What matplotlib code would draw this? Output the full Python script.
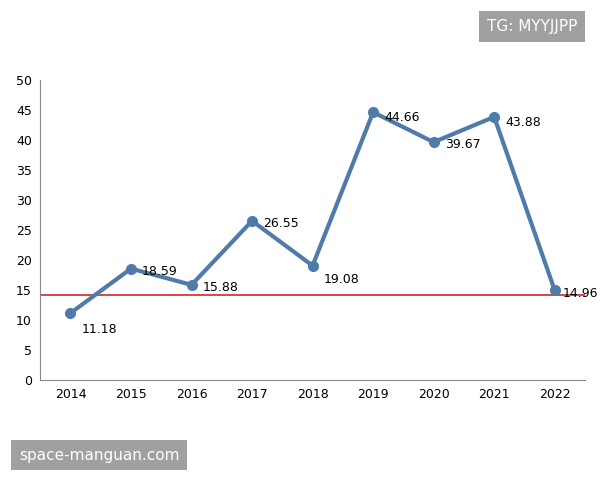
import matplotlib
matplotlib.use("Agg")
import matplotlib.pyplot as plt

years = ["2014","2015","2016","2017","2018","2019","2020","2021","2022"]
values = [11.18,18.59,15.88,26.55,19.08,44.66,39.67,43.88,14.96]
ref_line = 14.2
offsets = [(8,-12),(8,-2),(8,-2),(8,-2),(8,-10),(8,-4),(8,-2),(8,-4),(6,-2)]

fig = plt.figure(figsize=(6,4.8), dpi=100)
ax = fig.add_axes([0.067,0.208,0.908,0.625])
x = list(range(len(years)))
ax.plot(x, values, color="#4F7BAA", lw=3, marker="o", ms=7, zorder=3)
ax.axhline(ref_line, color="#D62728", lw=1.2, zorder=2)
for xi, v, off in zip(x, values, offsets):
    ax.annotate(f"{v:.2f}", (xi, v), xytext=off, textcoords="offset points",
                fontsize=9, va="center", ha="left")
ax.set_xlim(-0.5, len(years)-0.5)
ax.set_ylim(0, 50)
ax.set_yticks(range(0, 51, 5))
ax.set_xticks(x)
ax.set_xticklabels(years)
ax.tick_params(labelsize=9, length=0, pad=6)
for s in ["top","right"]:
    ax.spines[s].set_visible(False)
ax.spines["left"].set_color("#888888")
ax.spines["bottom"].set_color("#888888")
fig.text(0.887, 0.945, "TG: MYYJJPP", fontsize=11, color="white", ha="center", va="center",
         bbox=dict(boxstyle="square,pad=0.5", fc="#A0A0A0", ec="none"))
fig.text(0.165, 0.052, "space-manguan.com", fontsize=11, color="white", ha="center", va="center",
         bbox=dict(boxstyle="square,pad=0.5", fc="#A0A0A0", ec="none"))
fig.savefig("out.png", dpi=100)
